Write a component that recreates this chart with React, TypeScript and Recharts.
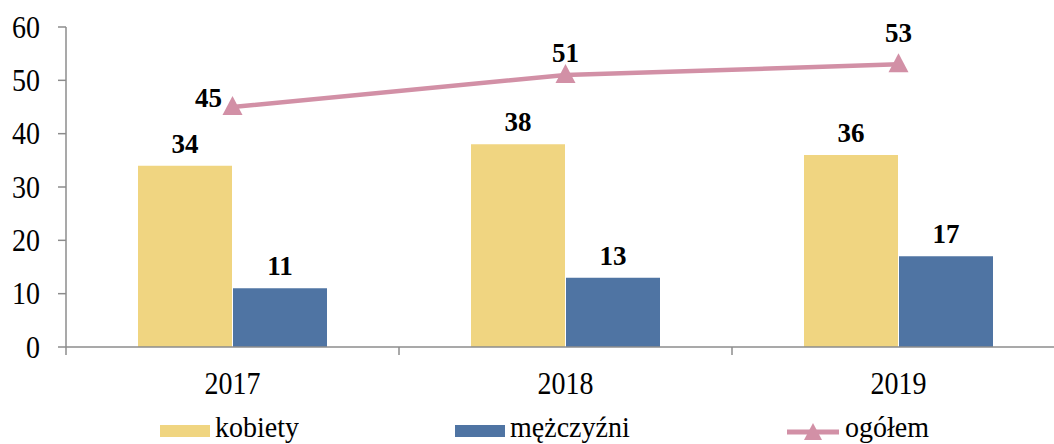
import React from 'react';
import { ComposedChart, Bar, Line, XAxis, YAxis, LabelList } from 'recharts';

const years = ['2017', '2018', '2019'];
const kobiety = [34, 38, 36];
const mezczyzni = [11, 13, 17];
const ogolem = [45, 51, 53];
const yTicks = [0, 10, 20, 30, 40, 50, 60];

const data = years.map((y, i) => ({ year: y, kobiety: kobiety[i], mezczyzni: mezczyzni[i], ogolem: ogolem[i] }));

const YELLOW = '#F0D581';
const BLUE = '#4F74A3';
const PINK = '#D290A6';
const AXIS = '#8C8C8C';
const FONT = "'Times New Roman', Times, 'Liberation Serif', Tinos, serif";

const CHART_W = 1065;
const CHART_H = 444;
const Y_W = 66;
const HALF_BAND = (CHART_W - Y_W) / years.length / 2;
const STRETCH = 1.15;

const lineLabelShift = [
  { dx: -24, dy: 0 },
  { dx: 0, dy: -13 },
  { dx: 0, dy: -22 },
];

const XTick = (props: any) => {
  const { x, y, payload } = props;
  const off = payload && typeof payload.offset === 'number' && payload.offset > 0 ? payload.offset : HALF_BAND;
  return (
    <g>
      <line x1={x - off} x2={x - off} y1={y - 8} y2={y} stroke={AXIS} strokeWidth={1.5} />
      <g transform={`translate(${x},${y + 28}) scale(1,${STRETCH})`}>
        <text x={0} y={0} textAnchor="middle" dominantBaseline="central" style={{ fontFamily: FONT }} fontSize={28} fill="#000">
          {payload.value}
        </text>
      </g>
    </g>
  );
};

const YTick = (props: any) => {
  const { x, y, payload } = props;
  return (
    <g transform={`translate(${x},${y}) scale(1,${STRETCH})`}>
      <text x={0} y={0} textAnchor="end" dominantBaseline="central" style={{ fontFamily: FONT }} fontSize={28} fill="#000">
        {payload.value}
      </text>
    </g>
  );
};

const Triangle = (props: any) => {
  const { cx, cy } = props;
  if (cx == null || cy == null) return null;
  return <polygon points={`${cx - 10},${cy + 8} ${cx + 10},${cy + 8} ${cx},${cy - 11}`} fill={PINK} />;
};

const LineLabel = (props: any) => {
  const { x, y, value, index } = props;
  const s = lineLabelShift[index] || { dx: 0, dy: -14 };
  return (
    <text x={x + s.dx} y={y + s.dy} textAnchor="middle" style={{ fontFamily: FONT }} fontSize={27} fontWeight="bold" fill="#000">
      {value}
    </text>
  );
};

const BarLabel = (props: any) => {
  const { x, y, width, value } = props;
  return (
    <text x={x + width / 2} y={y - 13} textAnchor="middle" style={{ fontFamily: FONT }} fontSize={27} fontWeight="bold" fill="#000">
      {value}
    </text>
  );
};

const legendText: React.CSSProperties = {
  position: 'absolute',
  top: 414,
  fontFamily: FONT,
  fontSize: 28,
  lineHeight: '28px',
  color: '#000',
  whiteSpace: 'nowrap',
  transform: 'scaleY(1.08)',
  transformOrigin: '0 25px',
};

export default function App() {
  return (
    <div style={{ position: 'fixed', left: 0, top: 0, width: 1054, height: 444, overflow: 'hidden', background: '#fff', fontFamily: FONT }}>
      <ComposedChart
        width={CHART_W}
        height={CHART_H}
        data={data}
        margin={{ top: 27, right: 0, bottom: 57, left: 0 }}
        barCategoryGap={72}
        barGap={1}
      >
        <XAxis
          dataKey="year"
          height={40}
          axisLine={{ stroke: AXIS, strokeWidth: 1.5 }}
          tickLine={false}
          tickSize={8}
          tickMargin={0}
          tick={<XTick />}
          interval={0}
        />
        <YAxis
          width={Y_W}
          domain={[0, 60]}
          ticks={yTicks}
          interval={0}
          axisLine={{ stroke: AXIS, strokeWidth: 1.5 }}
          tickLine={{ stroke: AXIS, strokeWidth: 1.5 }}
          tickSize={8}
          tickMargin={18}
          tick={<YTick />}
        />
        <Bar dataKey="kobiety" fill={YELLOW} isAnimationActive={false}>
          <LabelList dataKey="kobiety" content={<BarLabel />} />
        </Bar>
        <Bar dataKey="mezczyzni" fill={BLUE} isAnimationActive={false}>
          <LabelList dataKey="mezczyzni" content={<BarLabel />} />
        </Bar>
        <Line
          dataKey="ogolem"
          stroke={PINK}
          strokeWidth={4.5}
          dot={<Triangle />}
          activeDot={false}
          isAnimationActive={false}
        >
          <LabelList dataKey="ogolem" content={<LineLabel />} />
        </Line>
      </ComposedChart>
      <div style={{ position: 'absolute', left: 160, top: 425, width: 50, height: 12, background: YELLOW }} />
      <div style={{ ...legendText, left: 215 }}>kobiety</div>
      <div style={{ position: 'absolute', left: 455, top: 425, width: 50, height: 12, background: BLUE }} />
      <div style={{ ...legendText, left: 510 }}>mężczyźni</div>
      <svg style={{ position: 'absolute', left: 785, top: 418 }} width={56} height={26}>
        <line x1={2} x2={54} y1={14} y2={14} stroke={PINK} strokeWidth={5} />
        <polygon points="19,22 37,22 28,5" fill={PINK} />
      </svg>
      <div style={{ ...legendText, left: 845 }}>ogółem</div>
    </div>
  );
}
